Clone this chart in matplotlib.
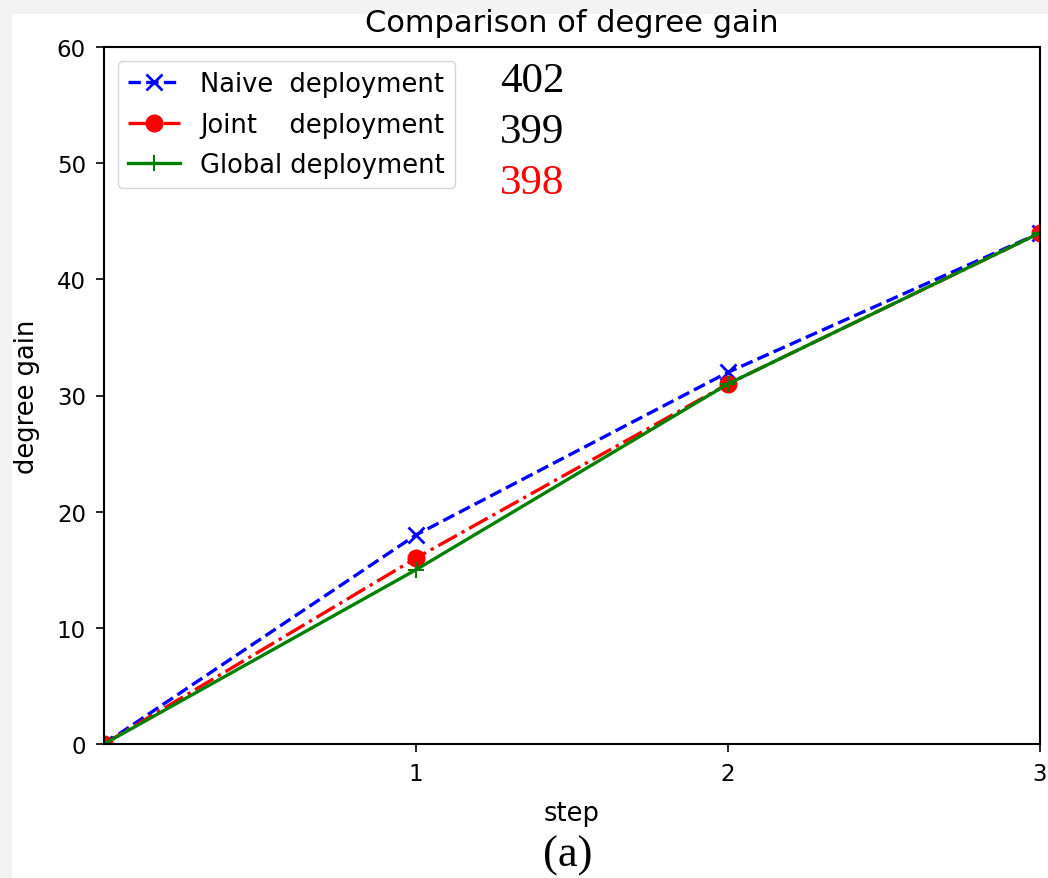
import matplotlib.pyplot as plt
from matplotlib.patches import Rectangle

steps = [0, 1, 2, 3]
naive = [0, 18, 32, 44]
joint = [0, 16, 31, 44]
global_dep = [0, 15, 31, 44]
counts = ["402", "399", "398"]
count_colors = ["black", "black", "red"]

fig = plt.figure(figsize=(10.48, 8.79), dpi=100, facecolor='#f3f3f3')
fig.patches.append(Rectangle((12 / 1048, 0), 1, 1 - 15 / 879, transform=fig.transFigure,
                             facecolor='white', edgecolor='none', zorder=-1))
ax = fig.add_axes([104 / 1048, 1 - 745 / 879, 936 / 1048, 697 / 879])

ax.plot(steps, naive, color='blue', linestyle='--', marker='x', markersize=11,
        markeredgewidth=2, linewidth=2.4, label='Naive  deployment')
ax.plot(steps, joint, color='red', linestyle='-.', marker='o', markersize=12,
        linewidth=2.4, label='Joint    deployment')
ax.plot(steps, global_dep, color='green', linestyle='-', marker='+', markersize=11,
        markeredgewidth=1.5, linewidth=2.4, label='Global deployment')

ax.set_xlim(0, 3)
ax.set_ylim(0, 60)
ax.set_xticks([1, 2, 3])
ax.set_yticks(range(0, 61, 10))
ax.tick_params(axis='both', which='major', labelsize=16.5, length=6, width=1.2, pad=7)
for s in ax.spines.values():
    s.set_linewidth(1.5)
ax.set_xlabel('step', fontsize=18.5, labelpad=11)
ax.set_ylabel('degree gain', fontsize=18.5, labelpad=12)
ax.set_title('Comparison of degree gain', fontsize=22, pad=11.5)
ax.legend(loc='upper left', fontsize=18.5, handlelength=2, borderaxespad=0.55,
          labelspacing=0.55, handletextpad=0.8)

for i, (c, col) in enumerate(zip(counts, count_colors)):
    fig.text(500 / 1048, 1 - (82 + i * 51) / 879, c, color=col, fontsize=31,
             family='Liberation Serif', va='center')
fig.text(568 / 1048, 1 - 856 / 879, '(a)', fontsize=32, family='Liberation Serif',
         ha='center', va='center')

fig.savefig('out.png', dpi=100, facecolor=fig.get_facecolor())
